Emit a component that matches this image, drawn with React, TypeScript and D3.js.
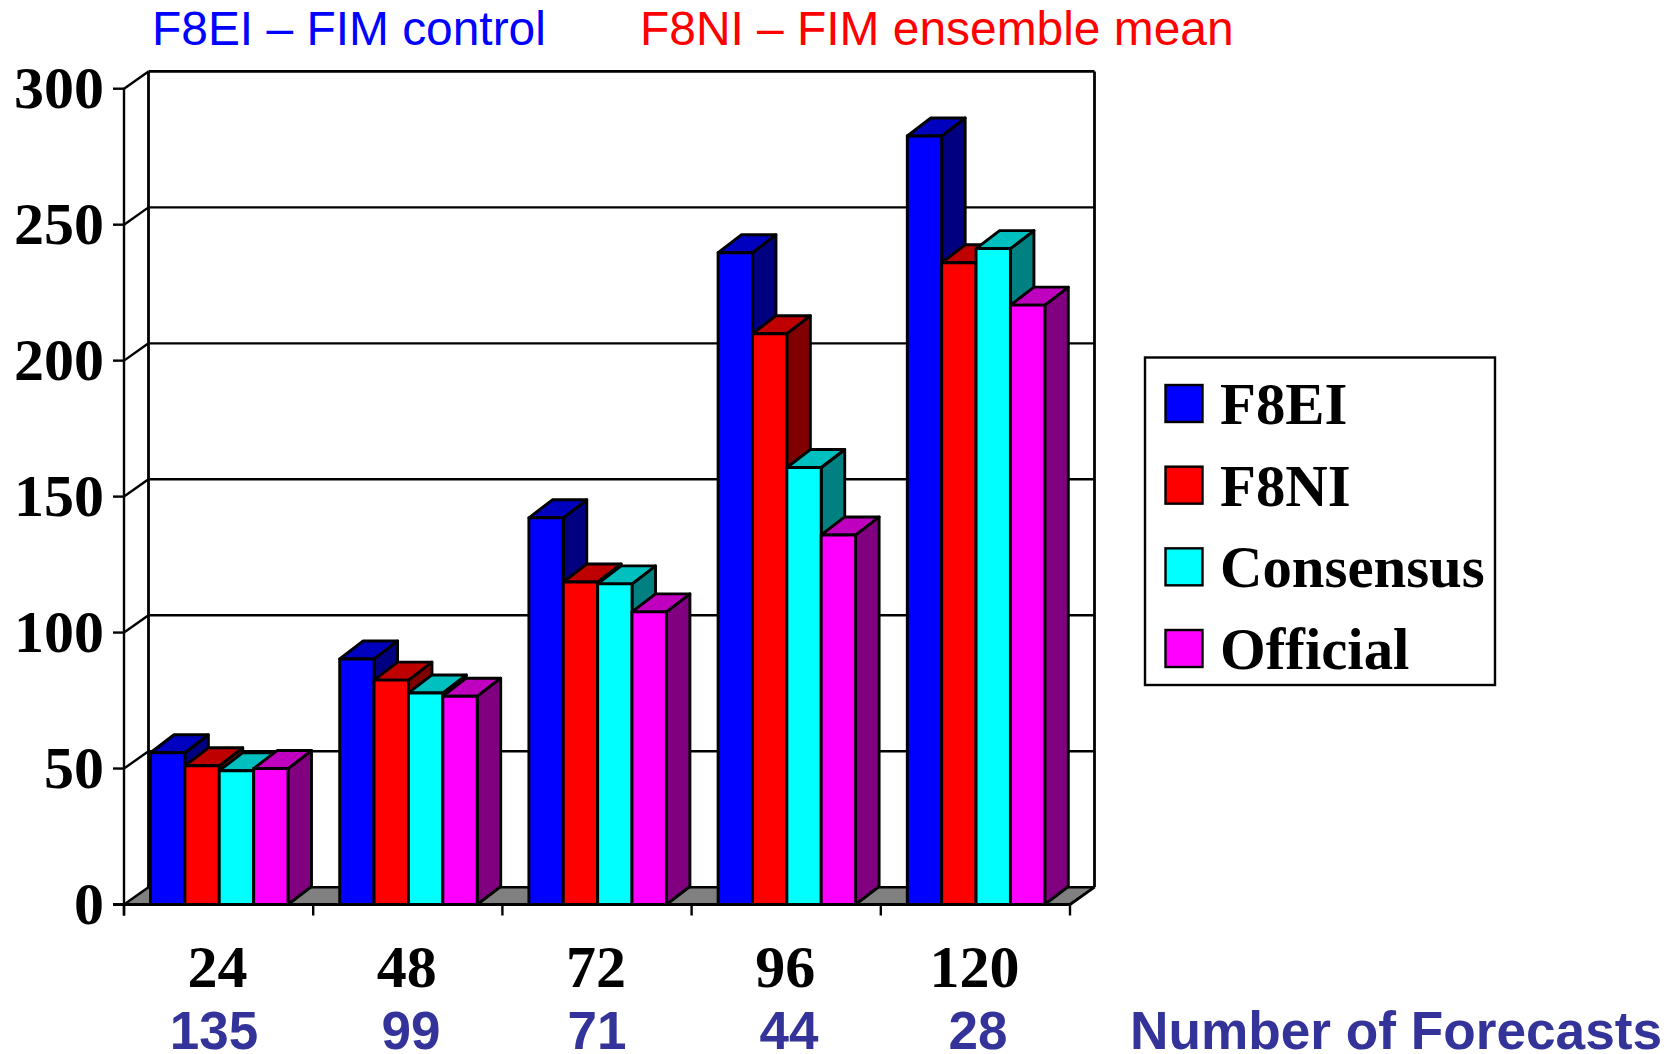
import React from "react";
import * as d3 from "d3";

const categories = ["24", "48", "72", "96", "120"];
const forecastCounts = ["135", "99", "71", "44", "28"];
const countCentres = [214, 411, 597, 789, 978];
const seriesNames = ["F8EI", "F8NI", "Consensus", "Official"];
const f8ei = [55.8, 90.3, 142.2, 239.7, 282.6];
const f8ni = [51, 82.5, 118.6, 209.9, 236];
const consensus = [49.2, 77.8, 117.9, 160.7, 241.2];
const official = [50, 76.6, 107.6, 135.9, 220.4];
const seriesValues = [f8ei, f8ni, consensus, official];
const frontColors = ["#0000ff", "#ff0000", "#00ffff", "#ff00ff"];
const topColors = ["#0000bf", "#bf0000", "#00bfbf", "#bf00bf"];
const sideColors = ["#000080", "#800000", "#008080", "#800080"];
const yTicks = [0, 50, 100, 150, 200, 250, 300];

const serif = "'Liberation Serif', serif";
const sans = "'Liberation Sans', sans-serif";
const DX = 24.5;
const DY = -17.3;
const BAR_DX = 23.5;
const BAR_DY = -18;

export default function App() {
  const y = d3.scaleLinear().domain([0, 300]).range([904.5, 88.7]);
  const x0 = d3.scaleBand<string>().domain(categories).range([124, 1070]);
  const x1 = d3.scaleBand<string>().domain(seriesNames).range([26.5, 164]);
  const pts = (p: number[][]) => p.map((q) => q.join(",")).join(" ");
  const y0 = y(0);
  const right = x0.range()[1];
  const left = x0.range()[0];
  return (
    <svg width={1677} height={1054} style={{ position: "absolute", left: 0, top: 0, display: "block" }}>
      <rect width={1677} height={1054} fill="#fff" />
      <text x={152} y={44.5} fontFamily={sans} fontSize={47.9} fill="#0000ff">F8EI – FIM control</text>
      <text x={640} y={44.5} fontFamily={sans} fontSize={47.9} fill="#ff0000">F8NI – FIM ensemble mean</text>

      <polygon points={pts([[left, y0], [left + DX, y0 + DY], [right + DX, y0 + DY], [right, y0]])} fill="#808080" />
      <g stroke="#000" fill="none" strokeWidth={2.4}>
        {yTicks.map((t) => (
          <g key={t}>
            <line x1={left - 11} x2={left} y1={y(t)} y2={y(t)} />
            <line x1={left} x2={left + DX} y1={y(t)} y2={y(t) + DY} />
            <line x1={left + DX} x2={right + DX} y1={y(t) + DY} y2={y(t) + DY} strokeWidth={t === 300 ? 2.8 : 2.4} />
          </g>
        ))}
        <line x1={left} x2={left} y1={y(300)} y2={y0 + 11} />
        <line x1={left + DX} x2={left + DX} y1={y(300) + DY} y2={y0 + DY} strokeWidth={2.8} />
        <line x1={right + DX} x2={right + DX} y1={y(300) + DY} y2={y0 + DY} strokeWidth={2.8} />
        <line x1={right} x2={right + DX} y1={y0} y2={y0 + DY} strokeWidth={2.8} />
        {[...categories.map((c) => x0(c) as number), right].map((v) => (
          <line key={v} x1={v} x2={v} y1={y0} y2={y0 + 11} />
        ))}
      </g>

      <g stroke="#000" strokeWidth={2.9} strokeLinejoin="round">
        {categories.map((c, ci) => (
          <g key={c}>
            {seriesNames.map((s, si) => {
              const l = (x0(c) as number) + (x1(s) as number);
              const r = l + x1.bandwidth();
              const t = y(seriesValues[si][ci]);
              return (
                <g key={s}>
                  <polygon fill={sideColors[si]} points={pts([[r, t], [r + BAR_DX, t + BAR_DY], [r + BAR_DX, y0 + BAR_DY], [r, y0]])} />
                  <polygon fill={topColors[si]} points={pts([[l, t], [l + BAR_DX, t + BAR_DY], [r + BAR_DX, t + BAR_DY], [r, t]])} />
                  <rect x={l} y={t} width={r - l} height={y0 - t} fill={frontColors[si]} />
                </g>
              );
            })}
          </g>
        ))}
      </g>
      <line x1={left - 11} x2={right} y1={y0} y2={y0} stroke="#000" strokeWidth={2.9} />

      <g fontFamily={serif} fontWeight="bold" fontSize={60} fill="#000">
        {yTicks.map((t) => (
          <text key={t} x={104} y={y(t) + 19} textAnchor="end">{t}</text>
        ))}
        {categories.map((c) => (
          <text key={c} x={(x0(c) as number) + x0.bandwidth() / 2 - 1} y={987} textAnchor="middle">{c}</text>
        ))}
      </g>
      <g fontFamily={sans} fontWeight="bold" fontSize={53} fill="#333399">
        {forecastCounts.map((c, i) => (
          <text key={c} x={countCentres[i]} y={1049} textAnchor="middle">{c}</text>
        ))}
        <text x={1130} y={1049} fontSize={53.2}>Number of Forecasts</text>
      </g>

      <rect x={1145} y={357.5} width={350} height={327.5} fill="#fff" stroke="#000" strokeWidth={2.4} />
      {seriesNames.map((s, i) => {
        const ly = d3.scalePoint<string>().domain(seriesNames).range([385, 630]);
        const top = ly(s) as number;
        return (
          <g key={s}>
            <rect x={1165.5} y={top} width={37} height={37} fill={frontColors[i]} stroke="#000" strokeWidth={2.4} />
            <text x={1220} y={top + 39} fontFamily={serif} fontWeight="bold" fontSize={58.8}>{s}</text>
          </g>
        );
      })}
    </svg>
  );
}
